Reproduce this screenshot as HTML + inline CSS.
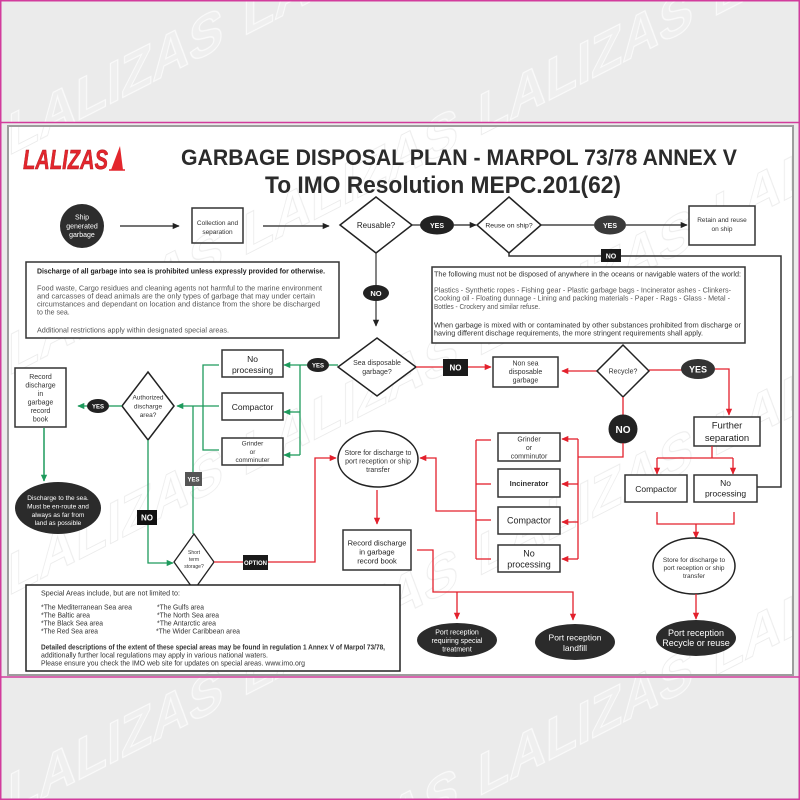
<!DOCTYPE html>
<html><head><meta charset="utf-8"><style>
html,body{margin:0;padding:0;background:#ebebeb;}
svg{display:block;}
text{font-family:"Liberation Sans",sans-serif;}
</style></head><body>
<svg width="800" height="800" viewBox="0 0 800 800" xmlns="http://www.w3.org/2000/svg">
<defs>
<marker id="ak" viewBox="0 0 10 10" refX="9" refY="5" markerWidth="7" markerHeight="7" markerUnits="userSpaceOnUse" orient="auto"><path d="M0,0.5 L10,5 L0,9.5z" fill="#222"/></marker>
<marker id="ar" viewBox="0 0 10 10" refX="9" refY="5" markerWidth="7" markerHeight="7" markerUnits="userSpaceOnUse" orient="auto"><path d="M0,0.5 L10,5 L0,9.5z" fill="#e3202c"/></marker>
<marker id="ag" viewBox="0 0 10 10" refX="9" refY="5" markerWidth="7" markerHeight="7" markerUnits="userSpaceOnUse" orient="auto"><path d="M0,0.5 L10,5 L0,9.5z" fill="#1e9a5c"/></marker>
<pattern id="wm1" patternUnits="userSpaceOnUse" width="235" height="220" patternTransform="skewY(-27)">
<text x="8" y="160" font-size="58" font-weight="bold" textLength="215" lengthAdjust="spacingAndGlyphs" fill="#efefef" stroke="#fafafa" stroke-width="1.3">LALIZAS</text>
</pattern>
<pattern id="wm2" patternUnits="userSpaceOnUse" width="235" height="220" patternTransform="skewY(-27)">
<text x="8" y="160" font-size="58" font-weight="bold" textLength="215" lengthAdjust="spacingAndGlyphs" fill="none" stroke="#ececec" stroke-width="1">LALIZAS</text>
</pattern>
</defs>

<!-- background -->
<rect width="800" height="800" fill="#ebebeb"/>
<rect x="0" y="0" width="800" height="122" fill="url(#wm1)"/>
<rect x="0" y="677" width="800" height="123" fill="url(#wm1)"/>
<rect x="8" y="126" width="785" height="549" fill="#fff" stroke="#9d9d9d" stroke-width="2"/>
<rect x="9" y="127" width="783" height="547" fill="url(#wm2)"/>
<line x1="0" y1="122.5" x2="800" y2="122.5" stroke="#d23c9c" stroke-width="1.5"/>
<line x1="0" y1="677" x2="800" y2="677" stroke="#d23c9c" stroke-width="1.5"/>
<rect x="0.75" y="0.75" width="798.5" height="798.5" fill="none" stroke="#d23c9c" stroke-width="1.5"/>

<!-- header -->
<text x="23" y="169" font-size="28" font-weight="bold" font-style="italic" fill="#e3262d" stroke="#b01820" stroke-width="0.5" textLength="85" lengthAdjust="spacingAndGlyphs">LALIZAS</text>
<polygon points="111,170 120,146 123,170" fill="#e3262d"/>
<line x1="109" y1="170" x2="125" y2="170" stroke="#e3262d" stroke-width="1.5"/>
<text x="181" y="165" font-size="22" font-weight="bold" fill="#2b2b2b" textLength="556" lengthAdjust="spacingAndGlyphs">GARBAGE DISPOSAL PLAN - MARPOL 73/78 ANNEX V</text>
<text x="265" y="193" font-size="24" font-weight="bold" fill="#2b2b2b" textLength="356" lengthAdjust="spacingAndGlyphs">To IMO Resolution MEPC.201(62)</text>

<!-- top row -->
<circle cx="82" cy="226" r="22" fill="#2d2d2d"/>
<g font-size="7" fill="#fff" text-anchor="middle">
<text x="82" y="219.5">Ship</text><text x="82" y="228.5">generated</text><text x="82" y="237">garbage</text>
</g>
<line x1="120" y1="226" x2="179" y2="226" stroke="#222" stroke-width="1.2" marker-end="url(#ak)"/>
<rect x="192" y="208" width="51" height="35" fill="none" stroke="#333" stroke-width="1.5"/>
<g font-size="6.5" fill="#333" text-anchor="middle">
<text x="217.5" y="225">Collection and</text><text x="217.5" y="234">separation</text>
</g>
<line x1="263" y1="226" x2="329" y2="226" stroke="#222" stroke-width="1.2" marker-end="url(#ak)"/>
<polygon points="376,197 412,225 376,253 340,225" fill="#fff" stroke="#222" stroke-width="1.5"/>
<text x="376" y="228" font-size="8" fill="#222" text-anchor="middle">Reusable?</text>
<line x1="412" y1="225" x2="421" y2="225" stroke="#222" stroke-width="1.2"/>
<ellipse cx="437" cy="225" rx="17" ry="9.5" fill="#222"/>
<text x="437" y="228" font-size="7" font-weight="bold" fill="#fff" text-anchor="middle">YES</text>
<line x1="454" y1="225" x2="476" y2="225" stroke="#222" stroke-width="1.2" marker-end="url(#ak)"/>
<polygon points="509,197 541,225 509,253 477,225" fill="#fff" stroke="#222" stroke-width="1.5"/>
<text x="509" y="227.5" font-size="6.8" fill="#222" text-anchor="middle">Reuse on ship?</text>
<line x1="541" y1="225" x2="594" y2="225" stroke="#222" stroke-width="1.2"/>
<ellipse cx="610" cy="225" rx="16" ry="9.5" fill="#3a3a3a"/>
<text x="610" y="228" font-size="7" font-weight="bold" fill="#fff" text-anchor="middle">YES</text>
<line x1="626" y1="225" x2="687" y2="225" stroke="#222" stroke-width="1.2" marker-end="url(#ak)"/>
<rect x="689" y="206" width="66" height="39" fill="#fff" stroke="#333" stroke-width="1.5"/>
<g font-size="6.5" fill="#333" text-anchor="middle">
<text x="722" y="222">Retain and reuse</text><text x="722" y="231">on ship</text>
</g>
<polyline points="509,253 509,256 781,256 781,487 757,487" fill="none" stroke="#333" stroke-width="1.5"/>
<rect x="601" y="249" width="20" height="13" fill="#1a1a1a"/>
<text x="611" y="258.5" font-size="7" font-weight="bold" fill="#fff" text-anchor="middle">NO</text>
<line x1="376" y1="253" x2="376" y2="326" stroke="#333" stroke-width="1.2" marker-end="url(#ak)"/>
<ellipse cx="376" cy="293" rx="13" ry="8" fill="#222"/>
<text x="376" y="296" font-size="7.5" font-weight="bold" fill="#fff" text-anchor="middle">NO</text>

<!-- left text box -->
<rect x="26" y="262" width="313" height="76" fill="#fff" stroke="#333" stroke-width="1.5"/>
<g font-size="7" fill="#555">
<text x="37" y="273.5" font-weight="bold" fill="#222" textLength="288" lengthAdjust="spacingAndGlyphs">Discharge of all garbage into sea is prohibited unless expressly provided for otherwise.</text>
<text x="37" y="290.5" textLength="285" lengthAdjust="spacingAndGlyphs">Food waste, Cargo residues and cleaning agents not harmful to the marine environment</text>
<text x="37" y="298.5" textLength="278" lengthAdjust="spacingAndGlyphs">and carcasses of dead animals are the only types of garbage that may under certain</text>
<text x="37" y="306.5" textLength="283" lengthAdjust="spacingAndGlyphs">circumstances and dependant on location and distance from the shore be discharged</text>
<text x="37" y="314.5">to the sea.</text>
<text x="37" y="332.5" textLength="192" lengthAdjust="spacingAndGlyphs">Additional restrictions apply within designated special areas.</text>
</g>

<!-- right text box -->
<rect x="432" y="267" width="313" height="76" fill="#fff" stroke="#333" stroke-width="1.5"/>
<g font-size="7" fill="#555">
<text x="434" y="276.5" fill="#333" textLength="307" lengthAdjust="spacingAndGlyphs">The following must not be disposed of anywhere in the oceans or navigable waters of the world:</text>
<text x="434" y="292.5" textLength="297" lengthAdjust="spacingAndGlyphs">Plastics - Synthetic ropes - Fishing gear - Plastic garbage bags - Incinerator ashes - Clinkers-</text>
<text x="434" y="300.5" textLength="296" lengthAdjust="spacingAndGlyphs">Cooking oil - Floating dunnage - Lining and packing materials - Paper - Rags - Glass - Metal -</text>
<text x="434" y="309" textLength="106" lengthAdjust="spacingAndGlyphs">Bottles - Crockery and similar refuse.</text>
<text x="434" y="327.5" fill="#333" textLength="307" lengthAdjust="spacingAndGlyphs">When garbage is mixed with or contaminated by other substances prohibited from discharge or</text>
<text x="434" y="335.5" fill="#333" textLength="269" lengthAdjust="spacingAndGlyphs">having different dischage requirements, the more stringent requirements shall apply.</text>
</g>

<!-- sea disposable diamond -->
<polygon points="377,338 416,367 377,396 338,367" fill="#fff" stroke="#222" stroke-width="1.5"/>
<g font-size="7" fill="#333" text-anchor="middle">
<text x="377" y="365">Sea disposable</text><text x="377" y="374">garbage?</text>
</g>

<!-- red: NO to non sea -->
<line x1="416" y1="367" x2="443" y2="367" stroke="#e3202c" stroke-width="1.3"/>
<rect x="443" y="359" width="25" height="17" fill="#1a1a1a"/>
<text x="455.5" y="370.5" font-size="8" font-weight="bold" fill="#fff" text-anchor="middle">NO</text>
<line x1="468" y1="367" x2="491" y2="367" stroke="#e3202c" stroke-width="1.3" marker-end="url(#ar)"/>
<rect x="493" y="357" width="65" height="30" fill="#fff" stroke="#333" stroke-width="1.5"/>
<g font-size="7" fill="#333" text-anchor="middle">
<text x="525.5" y="365.5">Non sea</text><text x="525.5" y="374">disposable</text><text x="525.5" y="382.5">garbage</text>
</g>
<line x1="597" y1="371" x2="562" y2="371" stroke="#e3202c" stroke-width="1.3" marker-end="url(#ar)"/>
<polygon points="623,345 649,371 623,397 597,371" fill="#fff" stroke="#222" stroke-width="1.5"/>
<text x="623" y="373.5" font-size="7" fill="#333" text-anchor="middle">Recycle?</text>
<line x1="649" y1="370" x2="682" y2="370" stroke="#e3202c" stroke-width="1.3"/>
<ellipse cx="698" cy="369" rx="17" ry="10" fill="#333"/>
<text x="698" y="372.5" font-size="9" font-weight="bold" fill="#fff" text-anchor="middle">YES</text>
<polyline points="715,369 729,369 729,415" fill="none" stroke="#e3202c" stroke-width="1.3" marker-end="url(#ar)"/>
<rect x="694" y="417" width="66" height="29" fill="#fff" stroke="#333" stroke-width="1.5"/>
<g font-size="9.5" fill="#222" text-anchor="middle">
<text x="727" y="428.5">Further</text><text x="727" y="441">separation</text>
</g>
<line x1="712" y1="446" x2="712" y2="458" stroke="#e3202c" stroke-width="1.3"/>
<line x1="657" y1="458" x2="733" y2="458" stroke="#e3202c" stroke-width="1.3"/>
<line x1="657" y1="458" x2="657" y2="474" stroke="#e3202c" stroke-width="1.3" marker-end="url(#ar)"/>
<line x1="733" y1="458" x2="733" y2="474" stroke="#e3202c" stroke-width="1.3" marker-end="url(#ar)"/>
<rect x="625" y="475" width="62" height="27" fill="#fff" stroke="#333" stroke-width="1.5"/>
<text x="656" y="492" font-size="8.5" fill="#222" text-anchor="middle">Compactor</text>
<rect x="694" y="475" width="63" height="27" fill="#fff" stroke="#333" stroke-width="1.5"/>
<g font-size="8.5" fill="#222" text-anchor="middle">
<text x="725.5" y="486">No</text><text x="725.5" y="496.5">processing</text>
</g>
<polyline points="657,512 657,524 734,524 734,512" fill="none" stroke="#e3202c" stroke-width="1.3"/>
<line x1="696" y1="524" x2="696" y2="538" stroke="#e3202c" stroke-width="1.3" marker-end="url(#ar)"/>
<ellipse cx="694" cy="566" rx="41" ry="28" fill="#fff" stroke="#222" stroke-width="1.5"/>
<g font-size="6.5" fill="#333" text-anchor="middle">
<text x="694" y="562">Store for discharge to</text><text x="694" y="570">port reception or ship</text><text x="694" y="578">transfer</text>
</g>
<line x1="696" y1="594" x2="696" y2="619" stroke="#e3202c" stroke-width="1.3" marker-end="url(#ar)"/>
<ellipse cx="696" cy="638" rx="40" ry="18" fill="#2b2b2b"/>
<g font-size="9" fill="#fff" text-anchor="middle">
<text x="696" y="636">Port reception</text><text x="696" y="646">Recycle or reuse</text>
</g>

<!-- recycle NO branch -->
<line x1="623" y1="397" x2="623" y2="416" stroke="#e3202c" stroke-width="1.3"/>
<circle cx="623" cy="429" r="14.5" fill="#222"/>
<text x="623" y="433" font-size="10" font-weight="bold" fill="#fff" text-anchor="middle">NO</text>
<polyline points="623,443 623,457 578,457" fill="none" stroke="#e3202c" stroke-width="1.3"/>
<line x1="578" y1="439" x2="578" y2="559" stroke="#e3202c" stroke-width="1.3"/>
<line x1="578" y1="439" x2="562" y2="439" stroke="#e3202c" stroke-width="1.3" marker-end="url(#ar)"/>
<line x1="578" y1="484" x2="562" y2="484" stroke="#e3202c" stroke-width="1.3" marker-end="url(#ar)"/>
<line x1="578" y1="522" x2="562" y2="522" stroke="#e3202c" stroke-width="1.3" marker-end="url(#ar)"/>
<line x1="578" y1="559" x2="562" y2="559" stroke="#e3202c" stroke-width="1.3" marker-end="url(#ar)"/>
<rect x="498" y="433" width="62" height="28" fill="#fff" stroke="#333" stroke-width="1.5"/>
<g font-size="7" fill="#333" text-anchor="middle">
<text x="529" y="441.5">Grinder</text><text x="529" y="450">or</text><text x="529" y="458.5">comminutor</text>
</g>
<rect x="498" y="469" width="62" height="28" fill="#fff" stroke="#333" stroke-width="1.5"/>
<text x="529" y="486" font-size="7.5" font-weight="bold" fill="#333" text-anchor="middle">Incinerator</text>
<rect x="498" y="507" width="62" height="27" fill="#fff" stroke="#333" stroke-width="1.5"/>
<text x="529" y="523.5" font-size="9" fill="#222" text-anchor="middle">Compactor</text>
<rect x="498" y="545" width="62" height="27" fill="#fff" stroke="#333" stroke-width="1.5"/>
<g font-size="9" fill="#222" text-anchor="middle">
<text x="529" y="556.5">No</text><text x="529" y="567.5">processing</text>
</g>
<line x1="476" y1="440" x2="476" y2="559" stroke="#e3202c" stroke-width="1.3"/>
<line x1="476" y1="440" x2="491" y2="440" stroke="#e3202c" stroke-width="1.3"/>
<line x1="476" y1="484" x2="491" y2="484" stroke="#e3202c" stroke-width="1.3"/>
<line x1="476" y1="520" x2="491" y2="520" stroke="#e3202c" stroke-width="1.3"/>
<line x1="476" y1="559" x2="491" y2="559" stroke="#e3202c" stroke-width="1.3"/>
<polyline points="476,511 436,511 436,458 420,458" fill="none" stroke="#e3202c" stroke-width="1.3" marker-end="url(#ar)"/>

<!-- middle store -->
<ellipse cx="378" cy="459" rx="40" ry="28" fill="#fff" stroke="#222" stroke-width="1.5"/>
<g font-size="7" fill="#333" text-anchor="middle">
<text x="378" y="455">Store for discharge to</text><text x="378" y="463.5">port reception or ship</text><text x="378" y="472">transfer</text>
</g>
<line x1="377" y1="490" x2="377" y2="524" stroke="#e3202c" stroke-width="1.3" marker-end="url(#ar)"/>
<rect x="343" y="530" width="68" height="40" fill="#fff" stroke="#333" stroke-width="1.5"/>
<g font-size="7.5" fill="#222" text-anchor="middle">
<text x="377" y="545.5">Record discharge</text><text x="377" y="554.5">in garbage</text><text x="377" y="563.5">record book</text>
</g>
<polyline points="417,550 433,550 433,592 573,592 573,620" fill="none" stroke="#e3202c" stroke-width="1.3" marker-end="url(#ar)"/>
<line x1="457" y1="592" x2="457" y2="619" stroke="#e3202c" stroke-width="1.3" marker-end="url(#ar)"/>
<ellipse cx="457" cy="640" rx="40" ry="17" fill="#2b2b2b"/>
<g font-size="7" fill="#fff" text-anchor="middle">
<text x="457" y="634.5">Port reception</text><text x="457" y="643">requiring special</text><text x="457" y="651.5">treatment</text>
</g>
<ellipse cx="575" cy="642" rx="40" ry="18" fill="#2b2b2b"/>
<g font-size="8.5" fill="#fff" text-anchor="middle">
<text x="575" y="640.5">Port reception</text><text x="575" y="651">landfill</text>
</g>

<!-- green section -->
<line x1="338" y1="365" x2="329" y2="365" stroke="#1e9a5c" stroke-width="1.3"/>
<ellipse cx="318" cy="365" rx="11" ry="7" fill="#222"/>
<text x="318" y="367.5" font-size="6" font-weight="bold" fill="#fff" text-anchor="middle">YES</text>
<line x1="307" y1="365" x2="284" y2="365" stroke="#1e9a5c" stroke-width="1.3" marker-end="url(#ag)"/>
<line x1="300" y1="365" x2="300" y2="455" stroke="#1e9a5c" stroke-width="1.3"/>
<line x1="300" y1="412" x2="284" y2="412" stroke="#1e9a5c" stroke-width="1.3" marker-end="url(#ag)"/>
<line x1="300" y1="455" x2="284" y2="455" stroke="#1e9a5c" stroke-width="1.3" marker-end="url(#ag)"/>
<rect x="222" y="350" width="61" height="27" fill="#fff" stroke="#333" stroke-width="1.5"/>
<g font-size="8.5" fill="#222" text-anchor="middle">
<text x="252.5" y="362">No</text><text x="252.5" y="373">processing</text>
</g>
<rect x="222" y="393" width="61" height="27" fill="#fff" stroke="#333" stroke-width="1.5"/>
<text x="252.5" y="410" font-size="8.5" fill="#222" text-anchor="middle">Compactor</text>
<rect x="222" y="438" width="61" height="27" fill="#fff" stroke="#333" stroke-width="1.5"/>
<g font-size="6.5" fill="#333" text-anchor="middle">
<text x="252.5" y="445.5">Grinder</text><text x="252.5" y="454">or</text><text x="252.5" y="462">comminuter</text>
</g>
<polyline points="219,365 203,365 203,450 219,450" fill="none" stroke="#1e9a5c" stroke-width="1.3"/>
<line x1="219" y1="406" x2="177" y2="406" stroke="#1e9a5c" stroke-width="1.3" marker-end="url(#ag)"/>
<line x1="193" y1="534" x2="193" y2="406" stroke="#1e9a5c" stroke-width="1.3"/>
<rect x="185" y="472" width="17" height="14" fill="#555"/>
<text x="193.5" y="481.5" font-size="6" font-weight="bold" fill="#fff" text-anchor="middle">YES</text>

<polygon points="148,372 174,406 148,440 122,406" fill="#fff" stroke="#222" stroke-width="1.5"/>
<g font-size="6.5" fill="#333" text-anchor="middle">
<text x="148" y="399.5">Authorized</text><text x="148" y="408.5">discharge</text><text x="148" y="417">area?</text>
</g>
<line x1="122" y1="406" x2="109" y2="406" stroke="#1e9a5c" stroke-width="1.3"/>
<ellipse cx="98" cy="406" rx="11" ry="7" fill="#222"/>
<text x="98" y="408.5" font-size="6" font-weight="bold" fill="#fff" text-anchor="middle">YES</text>
<line x1="87" y1="406" x2="78" y2="406" stroke="#1e9a5c" stroke-width="1.3" marker-end="url(#ag)"/>
<rect x="15" y="368" width="51" height="59" fill="#fff" stroke="#333" stroke-width="1.5"/>
<g font-size="7" fill="#333" text-anchor="middle">
<text x="40.5" y="379">Record</text><text x="40.5" y="387.5">discharge</text><text x="40.5" y="396">in</text><text x="40.5" y="404.5">garbage</text><text x="40.5" y="413">record</text><text x="40.5" y="421.5">book</text>
</g>
<line x1="44" y1="428" x2="44" y2="481" stroke="#1e9a5c" stroke-width="1.5" marker-end="url(#ag)"/>
<ellipse cx="58" cy="508" rx="43" ry="26" fill="#2b2b2b"/>
<g font-size="6.5" fill="#fff" text-anchor="middle">
<text x="58" y="500">Discharge to the sea.</text><text x="58" y="508.5">Must be en-route and</text><text x="58" y="517">always as far from</text><text x="58" y="525">land as possible</text>
</g>
<polyline points="148,440 148,563 173,563" fill="none" stroke="#1e9a5c" stroke-width="1.3" marker-end="url(#ag)"/>
<rect x="137" y="510" width="20" height="15" fill="#111"/>
<text x="147" y="520.5" font-size="8" font-weight="bold" fill="#fff" text-anchor="middle">NO</text>
<polygon points="194,534 214,562 194,590 174,562" fill="#fff" stroke="#222" stroke-width="1.3"/>
<g font-size="5" fill="#333" text-anchor="middle">
<text x="194" y="554">Short</text><text x="194" y="561">term</text><text x="194" y="568">storage?</text>
</g>

<!-- option red -->
<line x1="214" y1="562" x2="243" y2="562" stroke="#e3202c" stroke-width="1.3"/>
<rect x="243" y="555" width="25" height="15" fill="#1a1a1a"/>
<text x="255.5" y="565" font-size="6" font-weight="bold" fill="#fff" text-anchor="middle">OPTION</text>
<polyline points="268,562 315,562 315,458 336,458" fill="none" stroke="#e3202c" stroke-width="1.3" marker-end="url(#ar)"/>

<!-- special areas -->
<rect x="26" y="585" width="374" height="86" fill="#fff" stroke="#222" stroke-width="1.5"/>
<g font-size="7" fill="#333">
<text x="41" y="595.5" textLength="139" lengthAdjust="spacingAndGlyphs">Special Areas include, but are not limited to:</text>
<text x="41" y="609.5" textLength="91" lengthAdjust="spacingAndGlyphs">*The Mediterranean Sea area</text>
<text x="41" y="617.5" textLength="49" lengthAdjust="spacingAndGlyphs">*The Baltic area</text>
<text x="41" y="625.5" textLength="62" lengthAdjust="spacingAndGlyphs">*The Black Sea area</text>
<text x="41" y="633.5" textLength="57" lengthAdjust="spacingAndGlyphs">*The Red Sea area</text>
<text x="157" y="609.5" textLength="47" lengthAdjust="spacingAndGlyphs">*The Gulfs area</text>
<text x="157" y="617.5" textLength="62" lengthAdjust="spacingAndGlyphs">*The North Sea area</text>
<text x="157" y="625.5" textLength="59" lengthAdjust="spacingAndGlyphs">*The Antarctic area</text>
<text x="156" y="633.5" textLength="84" lengthAdjust="spacingAndGlyphs">*The Wider Caribbean area</text>
<text x="41" y="649.5" font-weight="bold" fill="#333" textLength="344" lengthAdjust="spacingAndGlyphs">Detailed descriptions of the extent of these special areas may be found in regulation 1 Annex V of Marpol 73/78,</text>
<text x="41" y="657.5" textLength="227" lengthAdjust="spacingAndGlyphs">additionally further local regulations may apply in various national waters.</text>
<text x="41" y="665.5" textLength="264" lengthAdjust="spacingAndGlyphs">Please ensure you  check the IMO web site for updates on special areas. www.imo.org</text>
</g>
</svg>
</body></html>
